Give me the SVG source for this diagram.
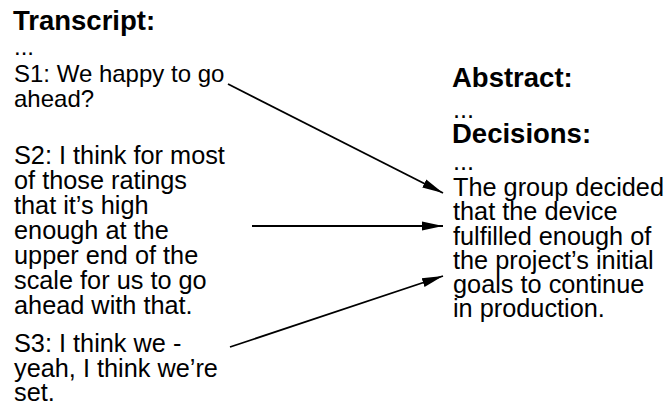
<svg xmlns="http://www.w3.org/2000/svg" width="665" height="406" viewBox="0 0 665 406">
  <style>
    text { font-family: "Liberation Sans", Arial, sans-serif; fill: #000; }
    .body { font-size: 25.3px; }
    .small { font-size: 24px; }
    .head { font-size: 27.5px; font-weight: bold; }
    .conn { stroke: #000; stroke-width: 1.8; fill: none; marker-end: url(#arrow); }
  </style>
  <defs>
    <marker id="arrow" markerUnits="userSpaceOnUse" markerWidth="22" markerHeight="12" viewBox="0 0 22 12" refX="21" refY="6" orient="auto">
      <path d="M0,1.5 L21,6 L0,10.5 Z" fill="#000"/>
    </marker>
  </defs>
  <rect width="665" height="406" fill="#fff"/>

  <!-- transcript column -->
  <g id="transcript-title">
    <text class="head" x="13" y="30">Transcript:</text>
    <text class="small" x="14" y="55">...</text>
  </g>
  <g id="s1">
    <text class="small" x="14" y="82">S1: We happy to go</text>
    <text class="small" x="14" y="107">ahead?</text>
  </g>
  <g id="s2">
    <text class="body" x="14" y="164">S2: I think for most</text>
    <text class="body" x="14" y="189">of those ratings</text>
    <text class="body" x="14" y="214">that it’s high</text>
    <text class="body" x="14" y="239">enough at the</text>
    <text class="body" x="14" y="264">upper end of the</text>
    <text class="body" x="14" y="289">scale for us to go</text>
    <text class="body" x="14" y="314">ahead with that.</text>
  </g>
  <g id="s3">
    <text class="body" x="14" y="352">S3: I think we -</text>
    <text class="body" x="14" y="377">yeah, I think we’re</text>
    <text class="body" x="14" y="401">set.</text>
  </g>

  <!-- summary column -->
  <g id="summary">
    <text class="head" x="452" y="87">Abstract:</text>
    <text class="body" x="453" y="118">...</text>
    <text class="head" x="452" y="143">Decisions:</text>
    <text class="body" x="453" y="170">...</text>
    <text class="body" x="453" y="196">The group decided</text>
    <text class="body" x="453" y="220">that the device</text>
    <text class="body" x="453" y="245">fulfilled enough of</text>
    <text class="body" x="453" y="269">the project’s initial</text>
    <text class="body" x="453" y="293">goals to continue</text>
    <text class="body" x="453" y="317">in production.</text>
  </g>

  <!-- connectors -->
  <g id="connectors">
    <line class="conn" x1="228" y1="84" x2="443" y2="193"/>
    <line class="conn" x1="252" y1="226" x2="443" y2="226"/>
    <line class="conn" x1="230" y1="347" x2="443" y2="276"/>
  </g>
</svg>
